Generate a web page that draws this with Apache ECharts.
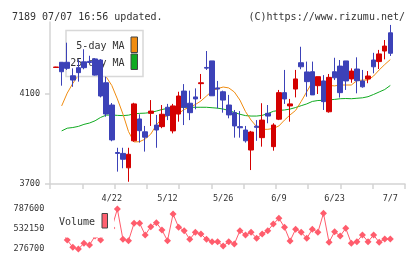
<!DOCTYPE html>
<html>
<head>
<meta charset="utf-8">
<script src="https://cdn.jsdelivr.net/npm/echarts@6.0.0/dist/echarts.min.js"></script>
<style>
  html, body { margin: 0; padding: 0; background: #fff; }
  #chart { width: 420px; height: 259px; }
</style>
</head>
<body>
<div id="chart"></div>
<script>
// trading days, one per candle
var dates = [
  '4/8', '4/9', '4/10', '4/11', '4/14', '4/15', '4/16', '4/17', '4/18', '4/21',
  '4/22', '4/23', '4/24', '4/25', '4/28', '5/1', '5/2', '5/7', '5/8', '5/9',
  '5/12', '5/13', '5/14', '5/15', '5/16', '5/19', '5/20', '5/21', '5/22', '5/23',
  '5/26', '5/27', '5/28', '5/29', '5/30', '6/2', '6/3', '6/4', '6/5', '6/6',
  '6/9', '6/10', '6/11', '6/12', '6/13', '6/16', '6/17', '6/18', '6/19', '6/20',
  '6/23', '6/24', '6/25', '6/26', '6/27', '6/30', '7/1', '7/2', '7/3', '7/4',
  '7/7'
];
var dateLabels = ['4/22', '5/12', '5/26', '6/9', '6/23', '7/7'];

var opens = [
  4218, 4241, 4241, 4181, 4217, 4243, 4245, 4256, 4251, 4150,
  4051, 3840, 3836, 3772, 3892, 3989, 3932, 4014, 3962, 3955,
  4041, 3936, 4011, 4113, 4059, 4087, 4146, 4218, 4247, 4127,
  4110, 4051, 4017, 3955, 3940, 3851, 3957, 3906, 4014, 3866,
  3988, 4106, 4047, 4122, 4239, 4198, 4199, 4137, 4158, 4021,
  4199, 4224, 4247, 4167, 4211, 4158, 4167, 4251, 4244, 4291,
  4372
];
var closes = [
  4220, 4199, 4214, 4162, 4195, 4217, 4240, 4184, 4091, 4011,
  3896, 3836, 3810, 3832, 4056, 3937, 3908, 4024, 3940, 4010,
  4004, 4047, 4091, 4041, 4017, 4078, 4150, 4215, 4092, 4122,
  4073, 4007, 3958, 3950, 3892, 3931, 3952, 3984, 4002, 3962,
  4106, 4078, 4056, 4167, 4221, 4155, 4096, 4177, 4066, 4174,
  4172, 4106, 4158, 4202, 4159, 4132, 4180, 4221, 4278, 4313,
  4281
];
var lows = [
  4218, 4137, 4207, 4132, 4155, 4210, 4238, 4182, 4085, 3999,
  3890, 3755, 3770, 3710, 3888, 3884, 3844, 3958, 3861, 3948,
  3984, 3925, 3977, 3962, 3984, 4032, 4078, 4207, 4092, 4036,
  4017, 3992, 3906, 3906, 3884, 3762, 3892, 3866, 3970, 3848,
  3984, 4056, 3977, 4085, 4210, 4088, 4096, 4100, 4029, 4017,
  4162, 4084, 4118, 4150, 4103, 4128, 4148, 4192, 4211, 4254,
  4269
];
var highs = [
  4221, 4241, 4328, 4214, 4254, 4299, 4270, 4260, 4255, 4177,
  4060, 3861, 3861, 3861, 4061, 4010, 3958, 4073, 4007, 4051,
  4056, 4056, 4110, 4144, 4115, 4125, 4189, 4291, 4247, 4158,
  4115, 4096, 4029, 4024, 3958, 3936, 3984, 4059, 4051, 3970,
  4118, 4207, 4078, 4207, 4310, 4244, 4244, 4177, 4184, 4189,
  4261, 4251, 4247, 4214, 4263, 4207, 4202, 4283, 4296, 4340,
  4407
];
var ma5 = [
  null, 4047, 4104, 4147, 4184, 4200, 4207, 4198, 4189, 4176,
  4138, 4078, 4011, 3933, 3887, 3888, 3900, 3922, 3962, 3991,
  4004, 4009, 4014, 4031, 4042, 4053, 4069, 4091, 4113, 4124,
  4131, 4127, 4109, 4073, 4022, 3984, 3955, 3943, 3943, 3947,
  3958, 3984, 4007, 4027, 4067, 4110, 4153, 4162, 4151, 4138,
  4136, 4140, 4140, 4140, 4159, 4162, 4162, 4180, 4207, 4231,
  4253
];
var ma25 = [
  null, 3936, 3948, 3951, 3956, 3965, 3971, 3981, 3996, 4006,
  4007, 4005, 4004, 4006, 4012, 4014, 4015, 4018, 4024, 4031,
  4036, 4040, 4041, 4041, 4041, 4041, 4041, 4041, 4039, 4037,
  4033, 4027, 4018, 4010, 4004, 4002, 4002, 4005, 4013, 4023,
  4027, 4029, 4033, 4040, 4048, 4056, 4067, 4071, 4072, 4074,
  4076, 4079, 4080, 4079, 4081, 4083, 4088, 4098, 4109, 4120,
  4138
];
var volumes = [
  520000, 500000, 391650, 298400, 276700, 349500, 327800, 442700, 391650, 519000,
  544900, 787600, 400600, 382700, 605000, 605000, 455500, 561500, 612600, 519400,
  382700, 723700, 553900, 510400, 400600, 490000, 468300, 400600, 370000, 370000,
  315000, 370000, 340600, 510400, 455500, 490000, 413400, 468300, 510400, 596000,
  668800, 553900, 378900, 528300, 490000, 413400, 528300, 490000, 732700, 362300,
  497700, 442700, 541100, 349500, 370000, 455500, 370000, 455500, 362300, 404400,
  404400
];
var priceTicks = [3700, 4100];
var volumeTicks = [276700, 532150, 787600];

var mono = 'DejaVu Sans Mono';
var axisGray = '#d4d4d4';
var plain = function (v) { return String(v); };

var candles = [];
for (var i = 0; i < dates.length; i++) {
  candles.push([opens[i], closes[i], lows[i], highs[i]]);
}

var chart = echarts.init(document.getElementById('chart'));
chart.setOption({
  animation: false,
  title: [
    { text: '7189 07/07 16:56 updated.', left: 7, top: 7,
      textStyle: { fontFamily: mono, fontSize: 10, fontWeight: 'normal', color: '#333' } },
    { text: '(C)https://www.rizumu.net/', right: 10, top: 7,
      textStyle: { fontFamily: mono, fontSize: 10, fontWeight: 'normal', color: '#333' } }
  ],
  grid: [
    { left: 50, top: 22, width: 355, height: 162 },
    { left: 53.3, top: 22, width: 339.8, height: 162 },
    { left: 53.3, top: 209, width: 339.8, height: 40 }
  ],
  xAxis: [
    {
      gridIndex: 0, type: 'value', min: 0, max: 11, interval: 1,
      axisLine: { lineStyle: { color: axisGray, width: 1.5 } },
      axisTick: { length: 5, lineStyle: { color: axisGray, width: 1.5 } },
      axisLabel: { show: false },
      splitLine: { show: false }
    },
    {
      gridIndex: 1, type: 'category', data: dates, boundaryGap: true,
      axisLine: { show: false },
      axisTick: { show: false },
      axisLabel: {
        interval: function (idx, val) { return dateLabels.indexOf(val) >= 0; },
        margin: 10, fontFamily: mono, fontSize: 8.5, color: '#333'
      }
    },
    {
      gridIndex: 2, type: 'category', data: dates, boundaryGap: true, show: false
    }
  ],
  yAxis: [
    {
      gridIndex: 0, type: 'value', min: 3700, max: 4420,
      axisLine: { show: true, lineStyle: { color: axisGray, width: 1.5 } },
      axisTick: { show: true, length: 5, customValues: priceTicks, lineStyle: { color: axisGray, width: 1.5 } },
      axisLabel: { customValues: priceTicks, formatter: plain, margin: 10, fontFamily: mono, fontSize: 8.5, color: '#333' },
      splitLine: { show: false }
    },
    {
      gridIndex: 1, type: 'value', min: 3700, max: 4420, show: false
    },
    {
      gridIndex: 2, type: 'value', min: 276700, max: 787600,
      axisLine: { show: false },
      axisTick: { show: false },
      axisLabel: { customValues: volumeTicks, formatter: plain, margin: 9, fontFamily: mono, fontSize: 8.5, color: '#333' },
      splitLine: { show: false }
    }
  ],
  graphic: [
    // price legend, drawn under the candles but over the MA lines
    { type: 'rect', z: 1.5, shape: { x: 66, y: 30.5, width: 77, height: 46 },
      style: { fill: '#fff', stroke: '#d8d8d8', lineWidth: 1.5 } },
    { type: 'text', z: 1.5, x: 124.5, y: 46,
      style: { text: '5-day MA', align: 'right', verticalAlign: 'middle', font: '10px ' + mono, fill: '#333' } },
    { type: 'text', z: 1.5, x: 124.5, y: 63,
      style: { text: '25-day MA', align: 'right', verticalAlign: 'middle', font: '10px ' + mono, fill: '#333' } },
    { type: 'rect', z: 1.5, shape: { x: 131, y: 37, width: 6.5, height: 15.5 },
      style: { fill: '#f08c10', stroke: '#444', lineWidth: 1 } },
    { type: 'rect', z: 1.5, shape: { x: 131, y: 54, width: 6.5, height: 15.5 },
      style: { fill: '#10aa20', stroke: '#444', lineWidth: 1 } },
    // volume legend, covers the line
    { type: 'rect', z: 10, shape: { x: 50, y: 204, width: 64, height: 33.5 },
      style: { fill: '#fff' } },
    { type: 'text', z: 10, x: 59, y: 222,
      style: { text: 'Volume', align: 'left', verticalAlign: 'middle', font: '10px ' + mono, fill: '#333' } },
    { type: 'rect', z: 10, shape: { x: 102, y: 213.5, width: 5.5, height: 14.5 },
      style: { fill: '#ff6070', stroke: '#444', lineWidth: 1 } }
  ],
  series: [
    {
      name: '25-day MA', type: 'line', xAxisIndex: 1, yAxisIndex: 1, z: 1,
      data: ma25, showSymbol: false, color: '#10aa20',
      lineStyle: { width: 1, color: '#10aa20' }
    },
    {
      name: '5-day MA', type: 'line', xAxisIndex: 1, yAxisIndex: 1, z: 1,
      data: ma5, showSymbol: false, color: '#f08c10',
      lineStyle: { width: 1, color: '#f08c10' }
    },
    {
      name: 'price', type: 'candlestick', xAxisIndex: 1, yAxisIndex: 1, z: 2,
      data: candles, barWidth: 5,
      itemStyle: {
        color: '#d40000', color0: '#3c42b8',
        borderColor: '#d40000', borderColor0: '#3c42b8', borderWidth: 1
      }
    },
    {
      name: 'Volume', type: 'line', xAxisIndex: 2, yAxisIndex: 2, z: 2,
      data: volumes, symbol: 'diamond', symbolSize: 7, showAllSymbol: true,
      color: '#ff5c6c',
      lineStyle: { width: 1, color: '#ff5c6c' },
      itemStyle: { color: '#ff5c6c' }
    }
  ]
});
</script>
</body>
</html>
